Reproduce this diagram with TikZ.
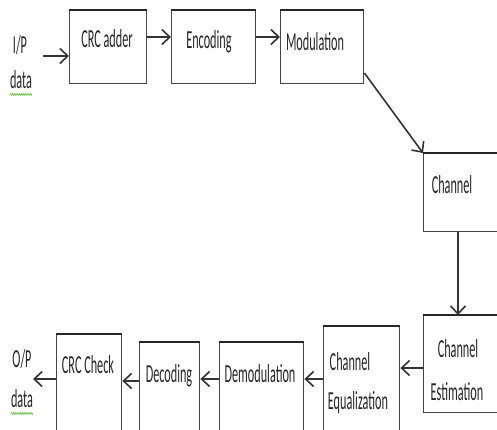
\documentclass[tikz,border=0pt]{standalone}
\usepackage{fontspec}
\newfontfamily\cf[FakeStretch=0.47]{Carlito}
\usetikzlibrary{arrows.meta,decorations.pathmorphing}
\definecolor{boxline}{RGB}{70,70,70}
\definecolor{wavy}{RGB}{120,200,80}
\tikzset{
  blk/.style={draw=boxline,line width=1.4pt,fill=white},
  topline/.style={draw=black!85,line width=2.4pt},
  lbl/.style={inner sep=0pt,anchor=base,font=\cf\fontsize{26}{26}\selectfont,text=black!85},
  conn/.style={draw=black!80,line width=1.6pt,-{Straight Barb[length=8pt,width=15pt]}},
  squig/.style={draw=wavy,line width=0.8pt,decorate,decoration={zigzag,amplitude=0.9pt,segment length=2.2pt}}
}
\begin{document}
\begin{tikzpicture}[x=1pt,y=-1pt]
\useasboundingbox (0,0) rectangle (497,429);
\clip (0,0) rectangle (497,429);
% boxes
\node[blk,minimum width=77pt,minimum height=73pt,inner sep=0pt,anchor=north west] (crc) at (69,10) {};
\node[blk,minimum width=84pt,minimum height=73pt,inner sep=0pt,anchor=north west] (enc) at (171,10) {};
\node[blk,minimum width=83pt,minimum height=73pt,inner sep=0pt,anchor=north west] (mod) at (280,10) {};
\node[blk,minimum width=80pt,minimum height=78pt,inner sep=0pt,anchor=north west] (chan) at (423,153) {};
\node[blk,minimum width=80pt,minimum height=97pt,inner sep=0pt,anchor=north west] (est) at (423,315) {};
\node[blk,minimum width=76pt,minimum height=110pt,inner sep=0pt,anchor=north west] (eq) at (323,326) {};
\node[blk,minimum width=84pt,minimum height=100pt,inner sep=0pt,anchor=north west] (dem) at (219,342) {};
\node[blk,minimum width=60pt,minimum height=100pt,inner sep=0pt,anchor=north west] (dec) at (139,342) {};
\node[blk,minimum width=65pt,minimum height=110pt,inner sep=0pt,anchor=north west] (chk) at (56,334) {};
% thicker top borders
\foreach \b in {crc,enc,mod,chan,est,eq,dem,dec,chk}
  \draw[topline] (\b.north west) -- (\b.north east);
% texts
\node[lbl] (ip1) at (20,53) {I/P};
\node[lbl] (ip2) at (21,88) {data};
\draw[squig] ([yshift=-6pt]ip2.south west) -- ([yshift=-6pt]ip2.south east);
\node[lbl] (t1) at (107,47) {CRC adder};
\node[lbl] (t2) at (209,48) {Encoding};
\node[lbl] (t3) at (315,50) {Modulation};
\node[lbl] (t4) at (452,193) {Channel};
\node[lbl] (t5) at (458,357) {Channel};
\node[lbl] (t6) at (457,400) {Estimation};
\node[lbl] (t7) at (350,370) {Channel};
\node[lbl] (t8) at (358,409) {Equalization};
\node[lbl] (t9) at (260,382) {Demodulation};
\node[lbl] (t10) at (169,382) {Decoding};
\node[lbl] (t11) at (88,373) {CRC Check};
\node[lbl] (op1) at (22,367) {O/P};
\node[lbl] (op2) at (22,407) {data};
\draw[squig] ([yshift=-6pt]op2.south west) -- ([yshift=-6pt]op2.south east);
% connectors
\coordinate (in) at (43,56);
\coordinate (out) at (33,379);
\draw[conn] (in) -- (in -| crc.west);
\draw[conn] ([yshift=-27pt]crc.north east) -- ([yshift=-27pt]enc.north west);
\draw[conn] ([yshift=-27pt]enc.north east) -- ([yshift=-27pt]mod.north west);
\draw[conn] ([yshift=-63pt]mod.north east) -- (chan.north west);
\draw[conn] ([xshift=35pt]chan.south west) -- ([xshift=35pt]est.north west);
\draw[conn] ([yshift=-53pt]est.north west) -- ([yshift=-42pt]eq.north east);
\draw[conn] ([yshift=-53pt]eq.north west) -- ([yshift=-37pt]dem.north east);
\draw[conn] ([yshift=-37pt]dem.north west) -- ([yshift=-37pt]dec.north east);
\draw[conn] ([yshift=-39pt]dec.north west) -- ([yshift=-47pt]chk.north east);
\draw[conn] ([yshift=-45pt]chk.north west) -- (out);
\end{tikzpicture}
\end{document}
